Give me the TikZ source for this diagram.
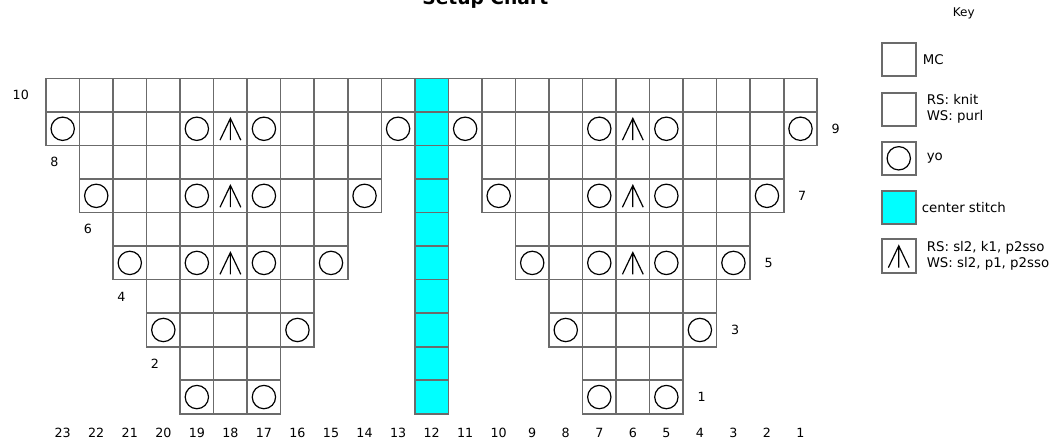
\documentclass[tikz,border=0pt]{standalone}
\usepackage{fontspec}
\setmainfont{DejaVu Sans}
\usetikzlibrary{positioning}

\definecolor{stitchcyan}{RGB}{0,255,255}

% central double decrease glyph, drawn on a cell
\newcommand{\cdd}[1]{%
  \draw[sym] (#1) ++(-0.31,-0.34) -- ++(0.31,0.65) -- ++(0.31,-0.65)
             (#1) ++(0,0.31) -- ++(0,-0.65);}

\begin{document}
\begin{tikzpicture}[
  x=25.15pt, y=25.15pt,
  cell/.style={
    draw=black!58, line width=1.2pt,
    minimum size=25.15pt, inner sep=0pt
  },
  midcell/.style={cell, fill=stitchcyan},
  yo/.style={draw, circle, line width=0.9pt, minimum size=17.5pt, inner sep=0pt},
  sym/.style={line width=0.9pt},
  num/.style={font=\fontsize{9.5}{11}\selectfont},
  keybox/.style={cell, line width=1.5pt},
  keytxt/.style={font=\fontsize{10}{12}\selectfont, align=left, inner sep=2pt},
]
\useasboundingbox (-1.37,-0.93) rectangle (29.91,12.34);

%% ── Title ───────────────────────────────────────────────────────────────────
\node[font=\fontsize{14}{17}\selectfont\bfseries, anchor=base] (title) at (13.1,12.22) {Setup Chart};

%% ── Chart cells and row numbers ─────────────────────────────────────────────
\foreach \r in {1,...,10}{
  \pgfmathtruncatemacro\p{(10-\r)/2}
  \pgfmathtruncatemacro\a{10-\p}
  \pgfmathtruncatemacro\b{12+\p}
  \pgfmathtruncatemacro\e{22-\p}
  \foreach \i in {\p,...,\a}{
    \pgfmathtruncatemacro\c{23-\i}
    \node[cell] (c\r-\c) at (\i+0.5,\r-0.5) {};
  }
  \foreach \i in {\b,...,\e}{
    \pgfmathtruncatemacro\c{23-\i}
    \node[cell] (c\r-\c) at (\i+0.5,\r-0.5) {};
  }
  \node[midcell] (c\r-12) at (11.5,\r-0.5) {};
  \ifodd\r
    \node[num] (row\r) at (23-\p+0.55,\r-0.5) {\r};
  \else
    \node[num] (row\r) at (\p-0.75,\r-0.5) {\r};
  \fi
}

%% ── Stitch symbols ──────────────────────────────────────────────────────────
\foreach \r/\c in {9/23,9/19,9/17,9/13,9/11,9/7,9/5,9/1,
                   7/22,7/19,7/17,7/14,7/10,7/7,7/5,7/2,
                   5/21,5/19,5/17,5/15,5/9,5/7,5/5,5/3,
                   3/20,3/16,3/8,3/4,
                   1/19,1/17,1/7,1/5}
  \node[yo] at (c\r-\c) {};
\foreach \r in {9,7,5}{
  \cdd{c\r-18}
  \cdd{c\r-6}
}

%% ── Column numbers ──────────────────────────────────────────────────────────
\foreach \c in {1,...,23}
  \node[num] (col\c) at (23.5-\c,-0.57) {\c};

%% ── Key ─────────────────────────────────────────────────────────────────────
\node[font=\fontsize{9}{11}\selectfont] (key) at (27.37,11.93) {Key};
\node[keybox] (kmc)   at (25.43,10.57) {};
\node[keytxt, right=2.5pt of kmc] {MC};
\node[keybox] (kknit) at (25.43,9.08) {};
\node[keytxt, right=5.5pt of kknit] {RS: knit\\WS: purl};
\node[keybox] (kyo)   at (25.43,7.62) {};
\node[yo] at (kyo) {};
\node[keytxt, right=5.5pt of kyo] {yo};
\node[keybox, fill=stitchcyan] (kmid) at (25.43,6.15) {};
\node[keytxt, right=1.8pt of kmid] {center stitch};
\node[keybox] (kcdd)  at (25.43,4.70) {};
\cdd{kcdd}
\node[keytxt, right=5.5pt of kcdd] {RS: sl2, k1, p2sso\\WS: sl2, p1, p2sso};

\end{tikzpicture}
\end{document}
